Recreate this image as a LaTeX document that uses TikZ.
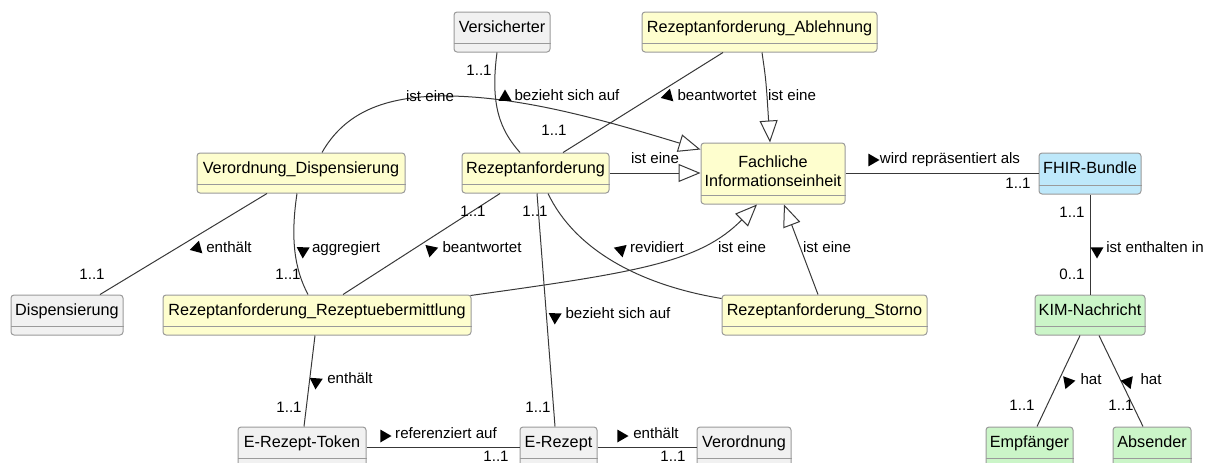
\documentclass[tikz,border=0pt]{standalone}
\usepackage{fontspec}
\setmainfont{Liberation Sans}
\usetikzlibrary{arrows.meta,shapes.geometric}

\definecolor{boxborder}{HTML}{9A9A9A}
\definecolor{linecol}{HTML}{383838}
\definecolor{clsyellow}{HTML}{FEFECE}
\definecolor{clsgray}{HTML}{F1F1F1}
\definecolor{clsblue}{HTML}{BEE8FA}
\definecolor{clsgreen}{HTML}{CBF5C8}

\tikzset{
  classbox/.style={draw=boxborder, line width=1pt, rounded corners=3pt, inner sep=0pt},
  divider/.style={draw=boxborder, line width=1pt},
  cfont/.style={font=\fontsize{16.2}{19.5}\selectfont, inner sep=0pt},
  cname/.style={cfont, text height=0.72em, text depth=0.21em},
  elabel/.style={font=\fontsize{15.1}{18}\selectfont, inner sep=0pt, text height=0.72em, text depth=0.21em},
  conn/.style={draw=linecol, line width=1pt},
  isa/.style={conn, -{Triangle[length=22pt, width=18pt, fill=white, line width=1pt]}},
  dirmark/.style={regular polygon, regular polygon sides=3, fill=black, draw=none,
    inner sep=0pt, minimum size=15pt},
}

% class box: name, fill, x1, y1, x2, y2 (box and divider only)
\newcommand\umlbox[6]{%
  \node[classbox, fill=#2, minimum width=#5-#3, minimum height=#6-#4] (#1) at ({(#3+#5)/2},{(#4+#6)/2}) {};
  \draw[divider] ([yshift=9pt]#1.south west) -- ([yshift=9pt]#1.south east);
}
% class box with a one-line title
\newcommand\umlclass[7]{%
  \umlbox{#1}{#2}{#3}{#4}{#5}{#6}
  \node[cname] (#1-name) at ([yshift=2.5pt]#1.center) {#7};
}

\begin{document}
\begin{tikzpicture}[x=1pt, y=-1pt]
\useasboundingbox (0,0) rectangle (1205,463);

% classes
\umlclass{vers}{clsgray}{454}{12}{550}{52}{Versicherter}
\umlclass{abl}{clsyellow}{642}{12}{877}{52}{Rezeptanforderung\_Ablehnung}
\umlclass{vd}{clsyellow}{197}{153}{405}{193}{Verordnung\_Dispensierung}
\umlclass{rez}{clsyellow}{462}{153}{609}{193}{Rezeptanforderung}
\umlbox{fach}{clsyellow}{701}{143}{845}{204}
\node[cfont, align=center] (fach-name) at (773,171) {Fachliche\\Informationseinheit};
\umlclass{fhir}{clsblue}{1039}{153}{1141}{194}{FHIR-Bundle}
\umlclass{disp}{clsgray}{11}{295}{123}{335}{Dispensierung}
\umlclass{rueb}{clsyellow}{163}{295}{471}{335}{Rezeptanforderung\_Rezeptuebermittlung}
\umlclass{storno}{clsyellow}{722}{295}{927}{335}{Rezeptanforderung\_Storno}
\umlclass{kim}{clsgreen}{1035}{295}{1145}{335}{KIM-Nachricht}
\umlclass{token}{clsgray}{238}{427}{366}{467}{E-Rezept-Token}
\umlclass{erez}{clsgray}{520}{427}{597}{467}{E-Rezept}
\umlclass{verord}{clsgray}{697}{427}{791}{467}{Verordnung}
\umlclass{empf}{clsgreen}{986}{427}{1073}{467}{Empfänger}
\umlclass{abs}{clsgreen}{1113}{427}{1191}{467}{Absender}

% generalisations
\draw[isa] ([xshift=21pt]vd.north) .. controls (345,112) and (385,97) .. (440,96)
  .. controls (520,95) and (610,122) .. ([yshift=24pt]fach.west);
\draw[isa] ([xshift=2.5pt]abl.south) .. controls (766,80) .. ([xshift=-3pt]fach.north);
\draw[isa] (rez.east) -- (rez.east -| fach.west);
\draw[isa] ([xshift=-1pt,yshift=-1pt]rueb.north east) .. controls (640,272) and (700,262) .. ([xshift=-16pt]fach.south);
\draw[isa] ([xshift=-6.5pt]storno.north) -- ([xshift=11pt]fach.south);

% associations
\draw[conn] ([xshift=-5pt]vers.south) .. controls (490,105) and (500,130) .. ([xshift=-15.5pt]rez.north);
\draw[conn] ([xshift=-36.5pt]abl.south) -- ([xshift=27.5pt]rez.north);
\draw[conn] (fach.east) -- (fach.east -| fhir.west);
\draw[conn] (fhir.south) -- (kim.north);
\draw[conn] ([xshift=-34pt]vd.south) -- ([xshift=33pt]disp.north);
\draw[conn] ([xshift=-4pt]vd.south) .. controls (290,240) and (295,270) .. ([xshift=-9pt]rueb.north);
\draw[conn] ([xshift=-35.5pt]rez.south) -- ([xshift=26pt]rueb.north);
\draw[conn] ([xshift=1.5pt]rez.south) -- ([xshift=-3.5pt]erez.north);
\draw[conn] ([xshift=12.5pt]rez.south) .. controls (575,250) and (640,285) .. ([yshift=-4pt]storno.north west);
\draw[conn] ([xshift=-2pt]rueb.south) -- ([xshift=2pt]token.north);
\draw[conn] (token.east) -- (erez.west);
\draw[conn] (erez.east) -- (verord.west);
\draw[conn] ([xshift=-10pt]kim.south) -- ([xshift=7.5pt]empf.north);
\draw[conn] ([xshift=9pt]kim.south) -- ([xshift=-9pt]abs.north);

% relation labels, multiplicities and reading-direction marks
\node[elabel] (l1) at (430,99) {ist eine};
\node[dirmark, shape border rotate=0] (m2) at (505,97) {};
\node[elabel] (l2) at (567,98) {bezieht sich auf};
\node[elabel] (l3) at (479,73) {1..1};
\node[dirmark, shape border rotate=-15] (m4) at (668,96) {};
\node[elabel] (l4) at (717,98) {beantwortet};
\node[elabel] (l5) at (554,133) {1..1};
\node[elabel] (l6) at (792,98) {ist eine};
\node[elabel] (l7) at (655,161) {ist eine};
\node[dirmark, shape border rotate=-90] (m8) at (872,160) {};
\node[elabel] (l8) at (950,161) {wird repräsentiert als};
\node[elabel] (l9) at (1018,186) {1..1};
\node[elabel] (l10) at (1072,215) {1..1};
\node[dirmark, shape border rotate=180] (m11) at (1097,251) {};
\node[elabel] (l11) at (1155,250) {ist enthalten in};
\node[elabel] (l12) at (1072,277) {0..1};
\node[dirmark, shape border rotate=-15] (m13) at (197,248) {};
\node[elabel] (l13) at (229,250) {enthält};
\node[elabel] (l14) at (92,277) {1..1};
\node[dirmark, shape border rotate=178] (m15) at (303,251) {};
\node[elabel] (l15) at (346,250) {aggregiert};
\node[elabel] (l16) at (288,277) {1..1};
\node[dirmark, shape border rotate=168] (m17) at (431,250) {};
\node[elabel] (l17) at (482,250) {beantwortet};
\node[elabel] (l18) at (473,214) {1..1};
\node[elabel] (l19) at (535,214) {1..1};
\node[dirmark, shape border rotate=192] (m20) at (621,250) {};
\node[elabel] (l20) at (657,250) {revidiert};
\node[elabel] (l21) at (742,250) {ist eine};
\node[elabel] (l22) at (827,250) {ist eine};
\node[dirmark, shape border rotate=178] (m23) at (555,317) {};
\node[elabel] (l23) at (618,316) {bezieht sich auf};
\node[dirmark, shape border rotate=176] (m24) at (316,382) {};
\node[elabel] (l24) at (350,381) {enthält};
\node[elabel] (l25) at (289,410) {1..1};
\node[elabel] (l26) at (538,410) {1..1};
\node[dirmark, shape border rotate=-90] (m27) at (384,436) {};
\node[elabel] (l27) at (446,436) {referenziert auf};
\node[elabel] (l28) at (496,459) {1..1};
\node[dirmark, shape border rotate=-90] (m29) at (621,436) {};
\node[elabel] (l29) at (656,436) {enthält};
\node[elabel] (l30) at (673,459) {1..1};
\node[dirmark, shape border rotate=-80] (m31) at (1068,382) {};
\node[elabel] (l31) at (1091,382) {hat};
\node[dirmark, shape border rotate=80] (m33) at (1128,382) {};
\node[elabel] (l33) at (1151,382) {hat};
\node[elabel] (l32) at (1022,408) {1..1};
\node[elabel] (l34) at (1121,408) {1..1};
\end{tikzpicture}
\end{document}
